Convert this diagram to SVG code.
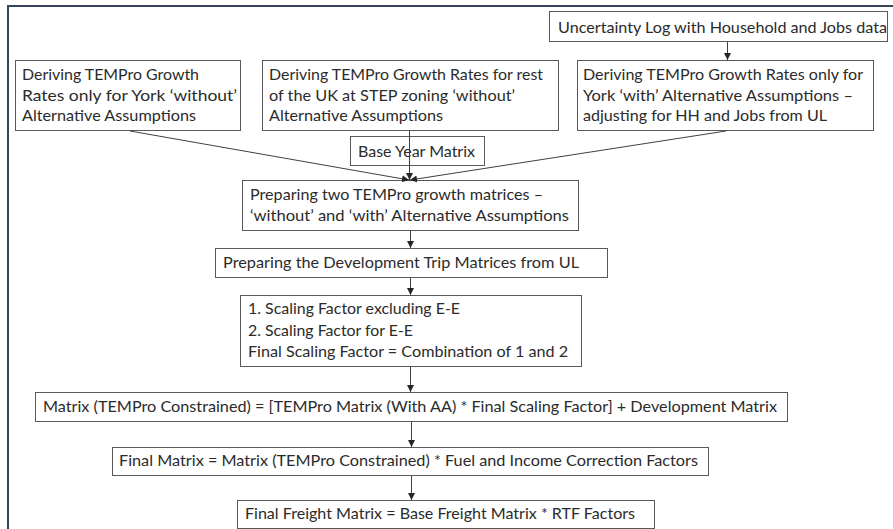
<svg xmlns="http://www.w3.org/2000/svg" width="893" height="529" viewBox="0 0 893 529">
<style>
.box{fill:#fff;stroke:#595959;stroke-width:1}
.t{font-family:Lato,"Open Sans","Liberation Sans",sans-serif;font-size:15px;fill:#2b2b2b}
.c{stroke:#404040;stroke-width:1;fill:none;marker-end:url(#ah)}
</style>
<defs>
<marker id="ah" markerUnits="userSpaceOnUse" markerWidth="8" markerHeight="8" refX="7" refY="3.5" orient="auto">
<path d="M0,0 L7,3.5 L0,7 Z" fill="#262626"/>
</marker>
</defs>
<rect x="0" y="0" width="893" height="529" fill="#fff"/>
<rect x="8" y="6" width="900" height="540" fill="none" stroke="#34465A" stroke-width="2"/>
<g id="uncertainty">
<rect class="box" x="549.5" y="11.5" width="338" height="30"/>
<text class="t" x="558" y="33" textLength="329" lengthAdjust="spacingAndGlyphs">Uncertainty Log with Household and Jobs data</text>
</g>
<g id="york-without">
<rect class="box" x="15.5" y="60.5" width="225" height="70"/>
<text class="t" x="22" y="80" textLength="177" lengthAdjust="spacingAndGlyphs">Deriving TEMPro Growth</text>
<text class="t" x="22" y="101" textLength="215" lengthAdjust="spacingAndGlyphs">Rates only for York ‘without’</text>
<text class="t" x="22" y="121" textLength="174" lengthAdjust="spacingAndGlyphs">Alternative Assumptions</text>
</g>
<g id="uk-without">
<rect class="box" x="262.5" y="60.5" width="296" height="70"/>
<text class="t" x="269" y="80" textLength="274" lengthAdjust="spacingAndGlyphs">Deriving TEMPro Growth Rates for rest</text>
<text class="t" x="269" y="101" textLength="246" lengthAdjust="spacingAndGlyphs">of the UK at STEP zoning ‘without’</text>
<text class="t" x="269" y="121" textLength="174" lengthAdjust="spacingAndGlyphs">Alternative Assumptions</text>
</g>
<g id="york-with">
<rect class="box" x="577.5" y="60.5" width="296" height="70"/>
<text class="t" x="583" y="80" textLength="280" lengthAdjust="spacingAndGlyphs">Deriving TEMPro Growth Rates only for</text>
<text class="t" x="583" y="101" textLength="270" lengthAdjust="spacingAndGlyphs">York ‘with’ Alternative Assumptions –</text>
<text class="t" x="583" y="121" textLength="244" lengthAdjust="spacingAndGlyphs">adjusting for HH and Jobs from UL</text>
</g>
<g id="base-year">
<rect class="box" x="350.5" y="136.5" width="134" height="29"/>
<text class="t" x="358" y="157" textLength="117" lengthAdjust="spacingAndGlyphs">Base Year Matrix</text>
</g>
<g id="two-matrices">
<rect class="box" x="242.5" y="180.5" width="336" height="50"/>
<text class="t" x="250" y="200" textLength="293" lengthAdjust="spacingAndGlyphs">Preparing two TEMPro growth matrices –</text>
<text class="t" x="250" y="221" textLength="319" lengthAdjust="spacingAndGlyphs">‘without’ and ‘with’ Alternative Assumptions</text>
</g>
<g id="dev-trip">
<rect class="box" x="215.5" y="248.5" width="392" height="29"/>
<text class="t" x="223" y="268" textLength="356" lengthAdjust="spacingAndGlyphs">Preparing the Development Trip Matrices from UL</text>
</g>
<g id="scaling">
<rect class="box" x="240.5" y="295.5" width="341" height="71"/>
<text class="t" x="248" y="314" textLength="212" lengthAdjust="spacingAndGlyphs">1. Scaling Factor excluding E-E</text>
<text class="t" x="248" y="336" textLength="165" lengthAdjust="spacingAndGlyphs">2. Scaling Factor for E-E</text>
<text class="t" x="248" y="357" textLength="320" lengthAdjust="spacingAndGlyphs">Final Scaling Factor = Combination of 1 and 2</text>
</g>
<g id="constrained">
<rect class="box" x="35.5" y="392.5" width="752" height="29"/>
<text class="t" x="43" y="412" textLength="734" lengthAdjust="spacingAndGlyphs">Matrix (TEMPro Constrained) = [TEMPro Matrix (With AA) * Final Scaling Factor] + Development Matrix</text>
</g>
<g id="final-matrix">
<rect class="box" x="112.5" y="447.5" width="596" height="28"/>
<text class="t" x="119" y="466" textLength="579" lengthAdjust="spacingAndGlyphs">Final Matrix = Matrix (TEMPro Constrained) * Fuel and Income Correction Factors</text>
</g>
<g id="final-freight">
<rect class="box" x="237.5" y="500.5" width="417" height="28"/>
<text class="t" x="245" y="519" textLength="390" lengthAdjust="spacingAndGlyphs">Final Freight Matrix = Base Freight Matrix * RTF Factors</text>
</g>
<g id="connectors">
<line class="c" x1="727.5" y1="42" x2="727.5" y2="60"/>
<line class="c" x1="130" y1="131" x2="409" y2="180"/>
<line class="c" x1="409.5" y1="131" x2="409.5" y2="180"/>
<line class="c" x1="726" y1="131" x2="410" y2="180"/>
<line class="c" x1="410.5" y1="231" x2="410.5" y2="248"/>
<line class="c" x1="410.5" y1="278" x2="410.5" y2="295"/>
<line class="c" x1="410.5" y1="367" x2="410.5" y2="392"/>
<line class="c" x1="411.5" y1="422" x2="411.5" y2="447"/>
<line class="c" x1="411.5" y1="476" x2="411.5" y2="500"/>
</g>
</svg>
